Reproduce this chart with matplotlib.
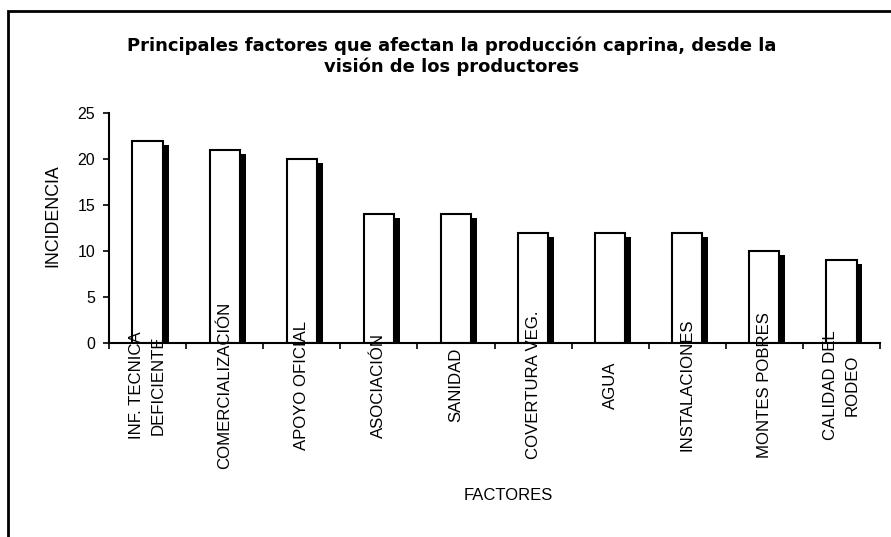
import matplotlib
matplotlib.use('Agg')
import matplotlib.pyplot as plt
import matplotlib.patheffects as pe
from matplotlib.patches import Rectangle
import numpy as np

plt.rcParams['font.family'] = ['Liberation Sans', 'DejaVu Sans']

factores = ['INF. TECNICA\nDEFICIENTE', 'COMERCIALIZACIÓN', 'APOYO OFICIAL',
            'ASOCIACIÓN', 'SANIDAD', 'COVERTURA VEG.', 'AGUA',
            'INSTALACIONES', 'MONTES POBRES', 'CALIDAD DEL\nRODEO']
incidencia = [22, 21, 20, 14, 14, 12, 12, 12, 10, 9]
y_ticks = [0, 5, 10, 15, 20, 25]

fig = plt.figure(figsize=(8.91, 5.37), dpi=100)
ax = fig.add_axes([0.1223, 0.3613, 0.8654, 0.4283])

x = np.arange(len(factores))
# Excel-style drop shadow behind each bar
shadow = [pe.SimplePatchShadow(offset=(4.3, -2.9), shadow_rgbFace='black', alpha=1.0),
          pe.Normal()]
ax.bar(x, incidencia, width=0.39, color='white', edgecolor='black',
       linewidth=1.5, path_effects=shadow, zorder=2)

ax.set_xlim(-0.5, len(factores) - 0.5)
ax.set_ylim(0, 25)
ax.set_yticks(y_ticks)
ax.tick_params(axis='y', direction='out', length=4, width=1.2, labelsize=11.5, pad=6)
ax.set_xticks(np.arange(len(factores) + 1) - 0.5)
ax.set_xticklabels([])
ax.tick_params(axis='x', direction='out', length=4, width=1.2)

for s in ['top', 'right']:
    ax.spines[s].set_visible(False)
for s in ['left', 'bottom']:
    ax.spines[s].set_linewidth(1.5)
    ax.spines[s].set_zorder(3)

trans = ax.get_xaxis_transform()
for xi, lab in zip(x, factores):
    ax.text(xi, -0.183, lab, transform=trans, rotation=90, ha='center',
            va='center', multialignment='center', fontsize=12.1,
            linespacing=1.55, zorder=4)

fig.text(53 / 891, 1 - 216 / 537, 'INCIDENCIA', rotation=90, ha='center',
         va='center', fontsize=12.8)
fig.text(508 / 891, 1 - 496 / 537, 'FACTORES', ha='center', va='center',
         fontsize=12)

fig.text(452 / 891, 1 - 56 / 537,
         'Principales factores que afectan la producción caprina, desde la\n'
         'visión de los productores',
         ha='center', va='center', fontsize=13, fontweight='bold',
         family='DejaVu Sans', linespacing=1.2)

fig.patches.append(Rectangle((8 / 891, -0.1), 1.2, 1 - 11 / 537 + 0.1,
                             transform=fig.transFigure, fill=False,
                             edgecolor='black', linewidth=2))

fig.savefig('out.png', dpi=100)
